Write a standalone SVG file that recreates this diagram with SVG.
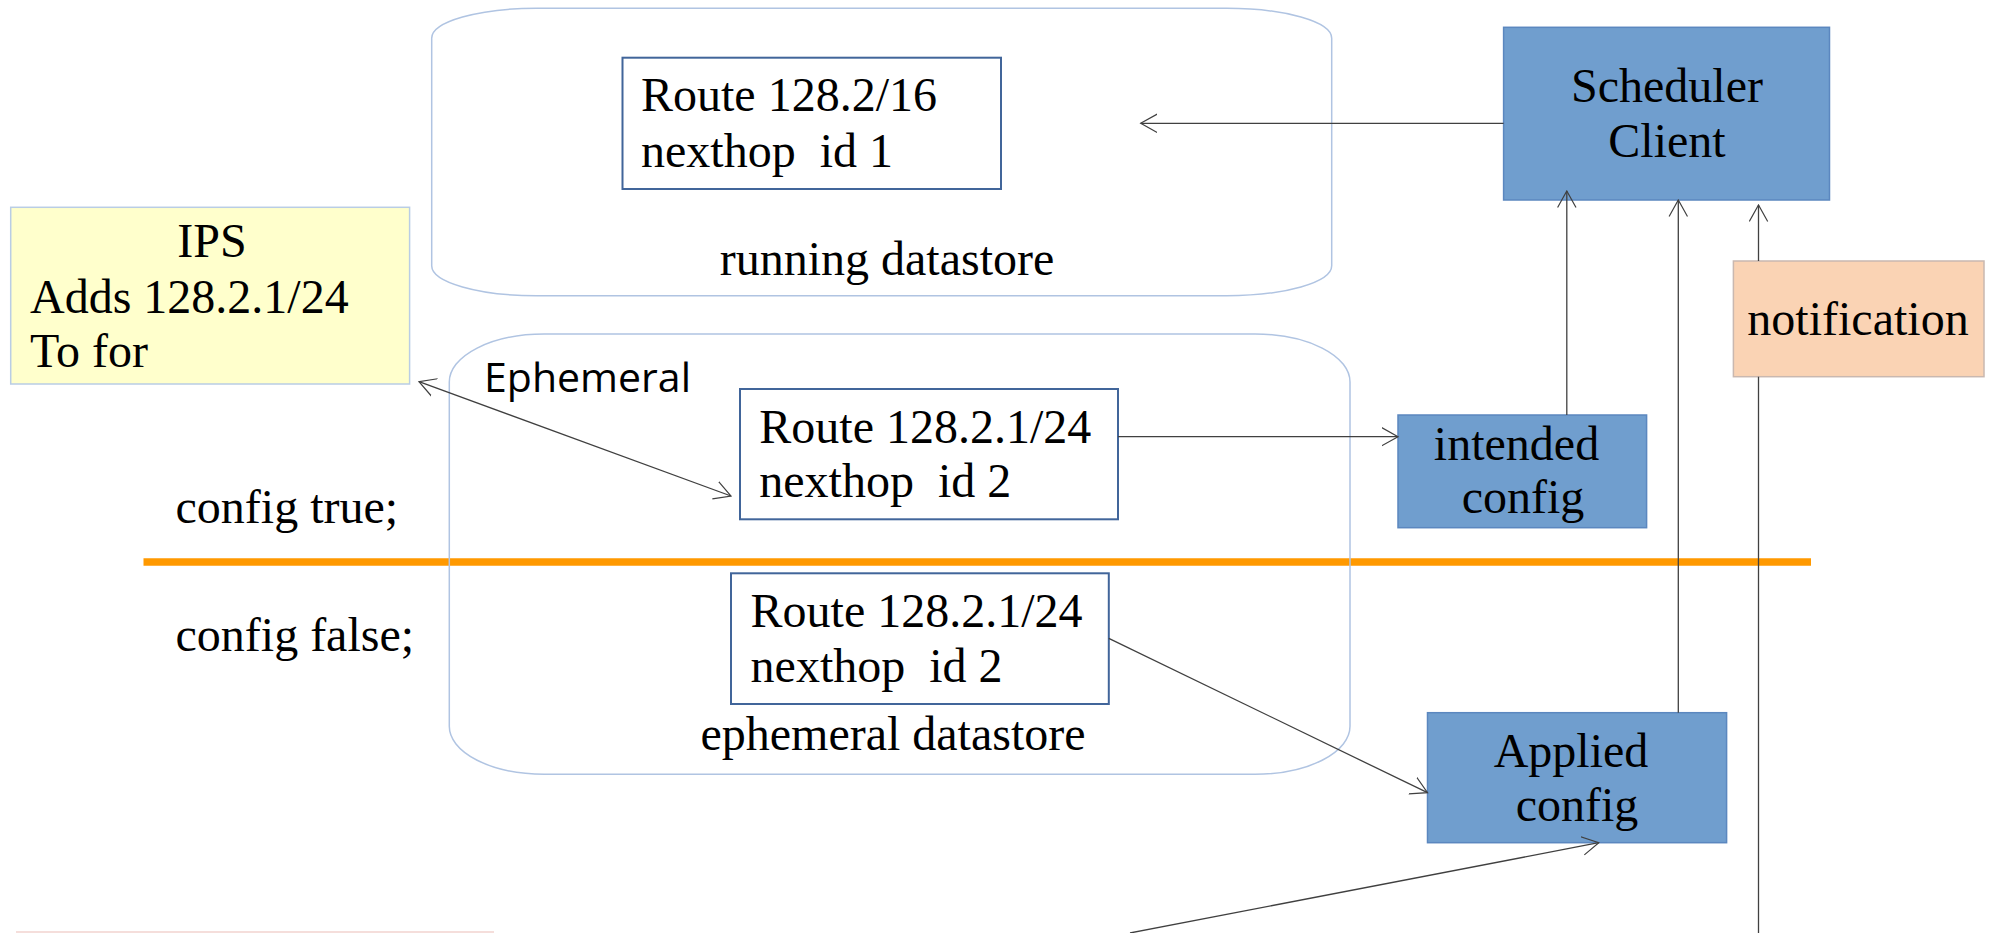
<svg xmlns="http://www.w3.org/2000/svg" width="1992" height="933" viewBox="0 0 1992 933">
<defs>
<marker id="ah" viewBox="0 0 18 20" refX="16.5" refY="10" markerWidth="18" markerHeight="20" markerUnits="userSpaceOnUse" orient="auto-start-reverse">
<path d="M0,0.8 L16.5,10 L0,19.2" fill="none" stroke="#404040" stroke-width="1.2"/>
</marker>
<style>
.t{font-family:"Liberation Serif","Times New Roman",serif;font-size:48px;fill:#000;white-space:pre}
.c{text-anchor:middle}
.ds{fill:none;stroke:#b0c4e2;stroke-width:1.5}
.route{fill:#fff;stroke:#41659a;stroke-width:2}
.blue{fill:#709ece;stroke:#5b87bf;stroke-width:1.5}
.ln{stroke:#404040;stroke-width:1.3;fill:none}
</style>
</defs>
<rect width="1992" height="933" fill="#fff"/>
<line x1="143.5" y1="562" x2="1811" y2="562" stroke="#ff9900" stroke-width="7.5"/>
<line x1="16" y1="932" x2="494" y2="932" stroke="#f2d3cf" stroke-width="1.5"/>
<text class="t" x="175.5" y="523">config true;</text>
<text class="t" x="175.5" y="651">config false;</text>
<g id="running-datastore">
<rect class="ds" x="431.7" y="8.3" width="900" height="287.4" rx="105" ry="30"/>
<text class="t c" x="887" y="275">running datastore</text>
</g>
<g id="ephemeral-datastore">
<rect class="ds" x="449.3" y="334" width="900.7" height="440.3" rx="95" ry="48"/>
<text x="484" y="391.7" font-family="Open Sans, Liberation Sans, sans-serif" font-size="41" textLength="207" lengthAdjust="spacingAndGlyphs" fill="#000">Ephemeral</text>
<text class="t c" x="893" y="750">ephemeral datastore</text>
</g>
<g id="route-running">
<rect class="route" x="622.5" y="57.7" width="378.5" height="131.3"/>
<text class="t" x="641" y="111">Route 128.2/16</text>
<text class="t" x="641" y="166.7">nexthop  id 1</text>
</g>
<g id="route-ephemeral-config">
<rect class="route" x="740" y="389" width="378" height="130.3"/>
<text class="t" x="759.3" y="442.7">Route 128.2.1/24</text>
<text class="t" x="759.3" y="496.7">nexthop  id 2</text>
</g>
<g id="route-ephemeral-state">
<rect class="route" x="731" y="573.3" width="377.8" height="130.7"/>
<text class="t" x="750.6" y="626.7">Route 128.2.1/24</text>
<text class="t" x="750.6" y="681.7">nexthop  id 2</text>
</g>
<g id="ips">
<rect x="10.7" y="207.3" width="398.9" height="176.7" fill="#ffffcc" stroke="#b9cde5" stroke-width="1.5"/>
<text class="t c" x="212" y="257.3">IPS</text>
<text class="t" x="30" y="312.7">Adds 128.2.1/24</text>
<text class="t" x="30" y="366.7">To for</text>
</g>
<g id="scheduler-client">
<rect class="blue" x="1503.6" y="27.3" width="325.9" height="172.7"/>
<text class="t c" x="1667" y="101.7">Scheduler</text>
<text class="t c" x="1667" y="156.7">Client</text>
</g>
<g id="notification">
<rect x="1733.4" y="261" width="250.6" height="115.7" fill="#fad3b4" stroke="#c9b8b0" stroke-width="1.5"/>
<text class="t c" x="1858" y="335">notification</text>
</g>
<g id="intended-config">
<rect class="blue" x="1398" y="415" width="248.6" height="112.7"/>
<text class="t c" x="1516.5" y="460">intended</text>
<text class="t c" x="1523" y="513.3">config</text>
</g>
<g id="applied-config">
<rect class="blue" x="1427.5" y="712.7" width="299.1" height="130"/>
<text class="t c" x="1571" y="766.7">Applied</text>
<text class="t c" x="1577" y="820.7">config</text>
</g>
<g id="connectors">
<line class="ln" x1="1503.6" y1="123.3" x2="1140.7" y2="123.3" marker-end="url(#ah)"/>
<line class="ln" x1="1566.8" y1="415" x2="1566.8" y2="191" marker-end="url(#ah)"/>
<line class="ln" x1="1678.3" y1="712.7" x2="1678.3" y2="200" marker-end="url(#ah)"/>
<line class="ln" x1="1758.5" y1="261" x2="1758.5" y2="205" marker-end="url(#ah)"/>
<line class="ln" x1="1758.5" y1="933" x2="1758.5" y2="376.7"/>
<line class="ln" x1="1118" y1="436.7" x2="1398" y2="436.7" marker-end="url(#ah)"/>
<line class="ln" x1="419" y1="381.7" x2="731" y2="496" marker-start="url(#ah)" marker-end="url(#ah)"/>
<line class="ln" x1="1108.8" y1="638.3" x2="1427.5" y2="792.7" marker-end="url(#ah)"/>
<line class="ln" x1="1130" y1="933" x2="1598.8" y2="842.7" marker-end="url(#ah)"/>
</g>
</svg>
